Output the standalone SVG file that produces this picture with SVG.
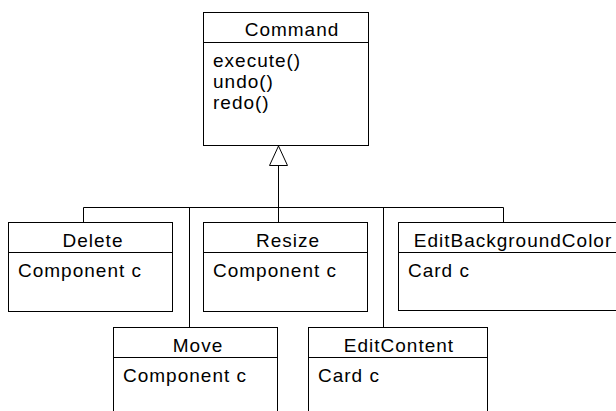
<svg xmlns="http://www.w3.org/2000/svg" width="616" height="411" viewBox="0 0 616 411">
  <style>
    .box { fill: #ffffff; stroke: #000000; stroke-width: 1; }
    .sep { stroke: #000000; stroke-width: 1; }
    .wire { fill: none; stroke: #000000; stroke-width: 1; }
    .name { font-family: "Liberation Sans", Arial, sans-serif; font-size: 19px; letter-spacing: 1px; fill: #000000; text-anchor: middle; }
    .attr { font-family: "Liberation Sans", Arial, sans-serif; font-size: 19px; letter-spacing: 1px; fill: #000000; }
  </style>
  <rect width="616" height="411" fill="#ffffff"/>

  <!-- inheritance tree -->
  <g id="connectors">
    <polyline class="wire" points="83.5,222 83.5,207.5 503.5,207.5 503.5,222"/>
    <line class="wire" x1="278.5" y1="165" x2="278.5" y2="222"/>
    <line class="wire" x1="189.5" y1="207.5" x2="189.5" y2="327"/>
    <line class="wire" x1="383.5" y1="207.5" x2="383.5" y2="327"/>
    <polygon class="box" points="278.5,146 269.5,165.5 287.5,165.5"/>
  </g>

  <g id="Command">
    <rect class="box" x="203.5" y="12.5" width="165" height="133"/>
    <line class="sep" x1="203.5" y1="42.5" x2="368.5" y2="42.5"/>
    <text class="name" x="292" y="36">Command</text>
    <text class="attr" x="213" y="67">execute()</text>
    <text class="attr" x="213" y="88">undo()</text>
    <text class="attr" x="213" y="109">redo()</text>
  </g>

  <g id="Delete">
    <rect class="box" x="8.5" y="222.5" width="164" height="89"/>
    <line class="sep" x1="8.5" y1="252.5" x2="172.5" y2="252.5"/>
    <text class="name" x="93" y="247">Delete</text>
    <text class="attr" x="18" y="277">Component c</text>
  </g>

  <g id="Resize">
    <rect class="box" x="203.5" y="222.5" width="164" height="89"/>
    <line class="sep" x1="203.5" y1="252.5" x2="367.5" y2="252.5"/>
    <text class="name" x="288" y="247">Resize</text>
    <text class="attr" x="213" y="277">Component c</text>
  </g>

  <g id="EditBackgroundColor">
    <rect class="box" x="398.5" y="222.5" width="226" height="88"/>
    <line class="sep" x1="398.5" y1="252.5" x2="624.5" y2="252.5"/>
    <text class="name" x="513" y="247">EditBackgroundColor</text>
    <text class="attr" x="408" y="277">Card c</text>
  </g>

  <g id="Move">
    <rect class="box" x="113.5" y="327.5" width="164" height="100"/>
    <line class="sep" x1="113.5" y1="357.5" x2="277.5" y2="357.5"/>
    <text class="name" x="198" y="352">Move</text>
    <text class="attr" x="123" y="382">Component c</text>
  </g>

  <g id="EditContent">
    <rect class="box" x="308.5" y="327.5" width="179" height="100"/>
    <line class="sep" x1="308.5" y1="357.5" x2="487.5" y2="357.5"/>
    <text class="name" x="399" y="352">EditContent</text>
    <text class="attr" x="318" y="382">Card c</text>
  </g>
</svg>
